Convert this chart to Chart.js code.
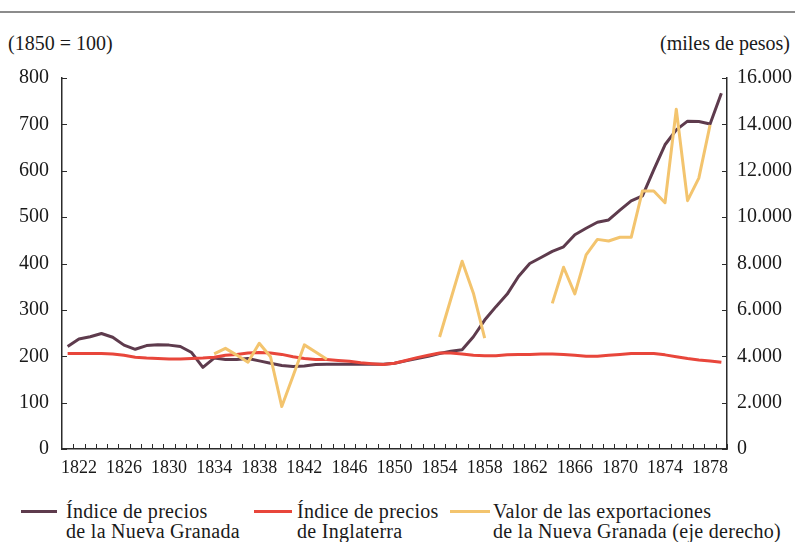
<!DOCTYPE html>
<html>
<head>
<meta charset="utf-8">
<script src="https://cdn.jsdelivr.net/npm/chart.js@4"></script>
<style>
  body { margin: 0; background: #fff; width: 795px; height: 542px; position: relative; overflow: hidden;
         font-family: "Liberation Serif", serif; color: #1a1a1a; }
  #rule { position: absolute; left: 0; top: 11px; width: 795px; height: 2px; background: #8c8c8c; }
  .unit { position: absolute; top: 33px; font-size: 20px; line-height: 20px; white-space: nowrap; }
  #wrap { position: absolute; left: 0; top: 0; width: 795px; height: 480px; }
  .leg { position: absolute; top: 501px; font-size: 20px; line-height: 20px; letter-spacing: 0.3px; white-space: nowrap; }
  .sw { position: absolute; top: 510px; height: 3px; }
</style>
</head>
<body>
<div id="rule"></div>
<div class="unit" style="left:8px">(1850 = 100)</div>
<div class="unit" style="right:5px">(miles de pesos)</div>
<div id="wrap"><canvas id="grafico" width="795" height="480"></canvas></div>

<div class="sw" style="left:21px;width:36px;background:#5e3b4d"></div>
<div class="leg" style="left:66px">Índice de precios<br>de la Nueva Granada</div>
<div class="sw" style="left:254px;width:38px;background:#e8463b"></div>
<div class="leg" style="left:297px">Índice de precios<br>de Inglaterra</div>
<div class="sw" style="left:450px;width:40px;background:#f3c46e"></div>
<div class="leg" style="left:493px">Valor de las exportaciones<br>de la Nueva Granada (eje derecho)</div>

<script>
var years = [1821, 1822, 1823, 1824, 1825, 1826, 1827, 1828, 1829, 1830,
             1831, 1832, 1833, 1834, 1835, 1836, 1837, 1838, 1839, 1840,
             1841, 1842, 1843, 1844, 1845, 1846, 1847, 1848, 1849, 1850,
             1851, 1852, 1853, 1854, 1855, 1856, 1857, 1858, 1859, 1860,
             1861, 1862, 1863, 1864, 1865, 1866, 1867, 1868, 1869, 1870,
             1871, 1872, 1873, 1874, 1875, 1876, 1877, 1878, 1879];

var labelYears = [1822, 1826, 1830, 1834, 1838, 1842, 1846, 1850, 1854, 1858, 1862, 1866, 1870, 1874, 1878];

// indice de precios de la Nueva Granada (1850 = 100)
var nuevaGranada = [221, 237, 242, 249, 241, 224, 215, 223, 225, 224,
                    221, 208, 176, 196, 193, 193, 195, 190, 185, 180,
                    178, 179, 182, 183, 183, 183, 183, 183, 183, 185,
                    190, 195, 200, 206, 211, 214, 242, 278, 307, 334,
                    372, 400, 413, 426, 436, 462, 476, 489, 494, 515,
                    535, 546, 602, 656, 688, 707, 706, 701, 767];

// indice de precios de Inglaterra
var inglaterra = [206, 206, 206, 206, 205, 202, 198, 196, 195, 194,
                  194, 195, 196, 198, 202, 204, 207, 208, 207, 204,
                  199, 195, 193, 193, 191, 189, 186, 184, 182, 185,
                  191, 197, 202, 207, 207, 205, 202, 201, 201, 203,
                  204, 204, 205, 205, 204, 202, 200, 200, 202, 204,
                  206, 206, 206, 203, 199, 195, 192, 190, 187];

// exportaciones, miles de pesos (eje derecho)
var exportaciones = [null, null, null, null, null, null, null, null, null, null,
                     null, null, null, 4100, 4340, 4050, 3740, 4560, 3980, 1830,
                     3150, 4490, 4180, 3870, null, null, null, null, null, null,
                     null, null, null, 4830, 6470, 8100, 6720, 4780, null, null,
                     null, null, null, 6280, 7840, 6690, 8370, 9040, 8970, 9130,
                     9130, 11130, 11130, 10620, 14650, 10710, 11680, 13980, null];

var axisColor = '#2b2b2b';
var xFont = { family: 'Liberation Serif', size: 18 };
var yFont = { family: 'Liberation Serif', size: 20 };

// marcas de los ejes hacia dentro del grafico
var innerTicks = {
    id: 'innerTicks',
    afterDraw: function(chart) {
        var ctx = chart.ctx, a = chart.chartArea, s = chart.scales;
        ctx.save();
        ctx.strokeStyle = axisColor;
        ctx.lineWidth = 1;
        ctx.beginPath();
        s.y.ticks.forEach(function(t) {
            var y = Math.round(s.y.getPixelForValue(t.value)) + 0.5;
            ctx.moveTo(a.left, y); ctx.lineTo(a.left + 5, y);
        });
        s.y1.ticks.forEach(function(t) {
            var y = Math.round(s.y1.getPixelForValue(t.value)) + 0.5;
            ctx.moveTo(a.right, y); ctx.lineTo(a.right - 5, y);
        });
        for (var i = 0; i < years.length; i++) {
            var x = Math.round(s.x.getPixelForValue(i + 0.5)) + 0.5;
            ctx.moveTo(x, a.bottom); ctx.lineTo(x, a.bottom - 5);
        }
        ctx.stroke();
        ctx.restore();
    }
};

function miles(v) {
    return String(v).replace(/\B(?=(\d{3})+(?!\d))/g, '.');
}

var chart = new Chart(document.getElementById('grafico'), {
    type: 'line',
    data: {
        labels: years,
        datasets: [{
            label: 'Índice de precios de la Nueva Granada',
            data: nuevaGranada,
            borderColor: '#5e3b4d',
            yAxisID: 'y',
            order: 3
        }, {
            label: 'Índice de precios de Inglaterra',
            data: inglaterra,
            borderColor: '#e8463b',
            yAxisID: 'y',
            order: 2
        }, {
            label: 'Valor de las exportaciones de la Nueva Granada (eje derecho)',
            data: exportaciones,
            borderColor: '#f3c46e',
            yAxisID: 'y1',
            spanGaps: false,
            order: 1
        }]
    },
    options: {
        responsive: false,
        animation: false,
        layout: { padding: { top: 78, bottom: 1, left: 0, right: 0 } },
        elements: {
            line: { borderWidth: 3, tension: 0, borderJoinStyle: 'round', borderCapStyle: 'butt' },
            point: { radius: 0 }
        },
        plugins: {
            legend: { display: false },
            tooltip: { enabled: false }
        },
        scales: {
            x: {
                type: 'category',
                offset: true,
                grid: { display: true, drawOnChartArea: false, drawTicks: false },
                border: { display: true, color: axisColor, width: 1.5 },
                ticks: {
                    autoSkip: false, maxRotation: 0, padding: 8,
                    color: '#1a1a1a', font: xFont,
                    callback: function(v, i) {
                        return labelYears.indexOf(years[i]) >= 0 ? String(years[i]) : '';
                    }
                },
                afterFit: function(sc) { sc.height = 30; }
            },
            y: {
                position: 'left',
                min: 0, max: 800,
                grid: { display: true, drawOnChartArea: false, drawTicks: false },
                border: { display: true, color: axisColor, width: 1.5 },
                ticks: { stepSize: 100, padding: 13, color: '#1a1a1a', font: yFont },
                afterFit: function(sc) { sc.width = 62; }
            },
            y1: {
                position: 'right',
                min: 0, max: 16000,
                grid: { display: true, drawOnChartArea: false, drawTicks: false },
                border: { display: true, color: axisColor, width: 1.5 },
                ticks: { stepSize: 2000, padding: 10, color: '#1a1a1a', font: yFont,
                         callback: function(v) { return miles(v); } },
                afterFit: function(sc) { sc.width = 68; }
            }
        }
    },
    plugins: [innerTicks]
});
</script>
</body>
</html>
